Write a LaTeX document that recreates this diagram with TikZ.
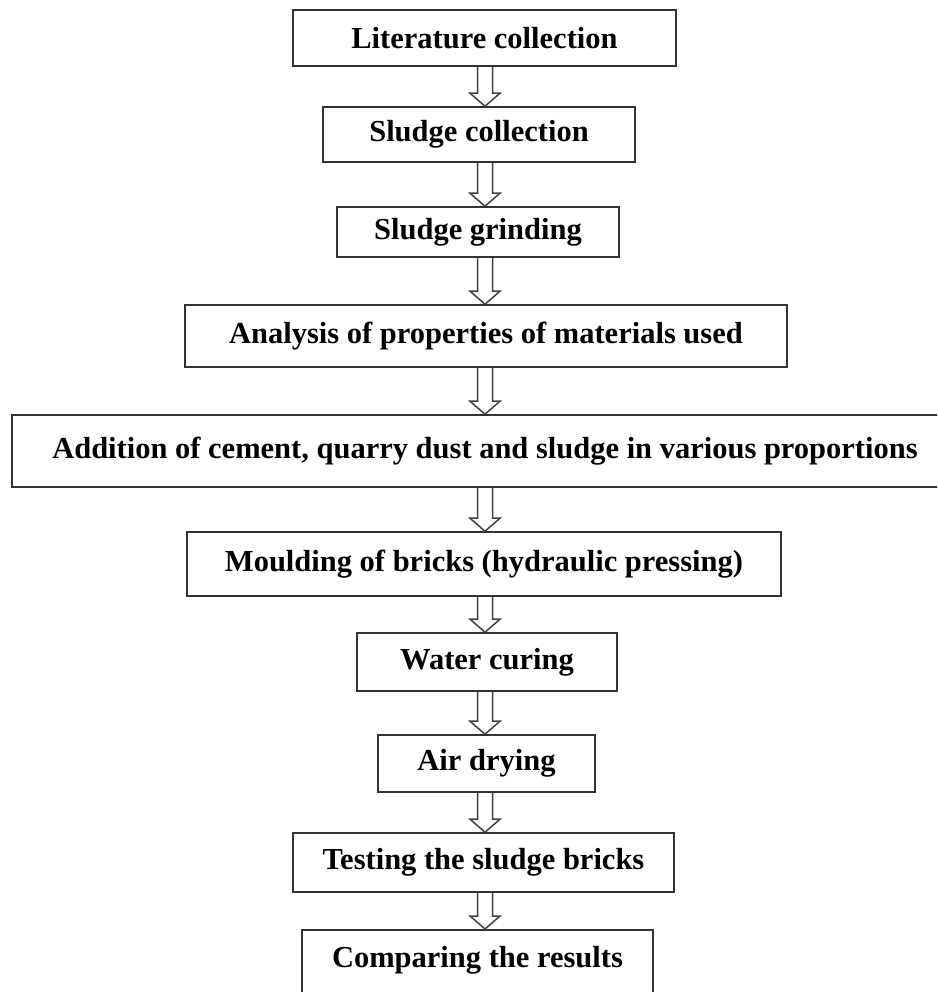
\documentclass[tikz,border=0pt]{standalone}
\usepackage{fontspec}
\setmainfont{Liberation Serif}
\usetikzlibrary{calc}

\begin{document}
\begin{tikzpicture}[x=1pt,y=-1pt,
    every node/.style={draw=black!80,line width=1.6pt,rectangle,inner sep=0pt,
      font=\fontsize{30.5}{36}\selectfont\bfseries},
    flow/.style={draw=black!75,line width=1.5pt,
      to path={($(\tikztostart)+(-7.5,0)$) -- ($(\tikztotarget)+(-7.5,-13)$)
        -- ++(-7.5,0) -- (\tikztotarget) -- ++(15,-13) -- ++(-7.5,0)
        -- ($(\tikztostart)+(7.5,0)$)}}]
  \path[use as bounding box] (0,0) rectangle (937,992);
  \clip (0,0) rectangle (937,992);

  \node[minimum width=383pt,minimum height=56pt] (lit) at (484.5,38) {Literature collection};
  \node[minimum width=312pt,minimum height=55pt] (scoll) at (479,134.5) {Sludge collection};
  \node[minimum width=282pt,minimum height=50pt] (grind) at (478,232) {Sludge grinding};
  \node[minimum width=602pt,minimum height=62pt] (anal) at (486,336) {Analysis of properties of materials used};
  \node[minimum width=946pt,minimum height=72pt] (add) at (485,451) {Addition of cement, quarry dust and sludge in various proportions};
  \node[minimum width=594pt,minimum height=64pt] (mould) at (484,564) {Moulding of bricks (hydraulic pressing)};
  \node[minimum width=260pt,minimum height=58pt] (water) at (487,662) {Water curing};
  \node[minimum width=217pt,minimum height=57pt] (air) at (486.5,763.5) {Air drying};
  \node[minimum width=381pt,minimum height=59pt] (test) at (483.5,862.5) {Testing the sludge bricks};
  \node[minimum width=351pt,anchor=north,inner ysep=18pt,text height=20pt,text depth=40pt]
    (comp) at (477.5,929) {Comparing the results};

  \coordinate (axis) at (485,0);
  \foreach \a/\b in {lit/scoll,scoll/grind,grind/anal,anal/add,add/mould,
                     mould/water,water/air,air/test,test/comp}
    \draw[flow] (axis |- \a.south) to (axis |- \b.north);
\end{tikzpicture}
\end{document}
